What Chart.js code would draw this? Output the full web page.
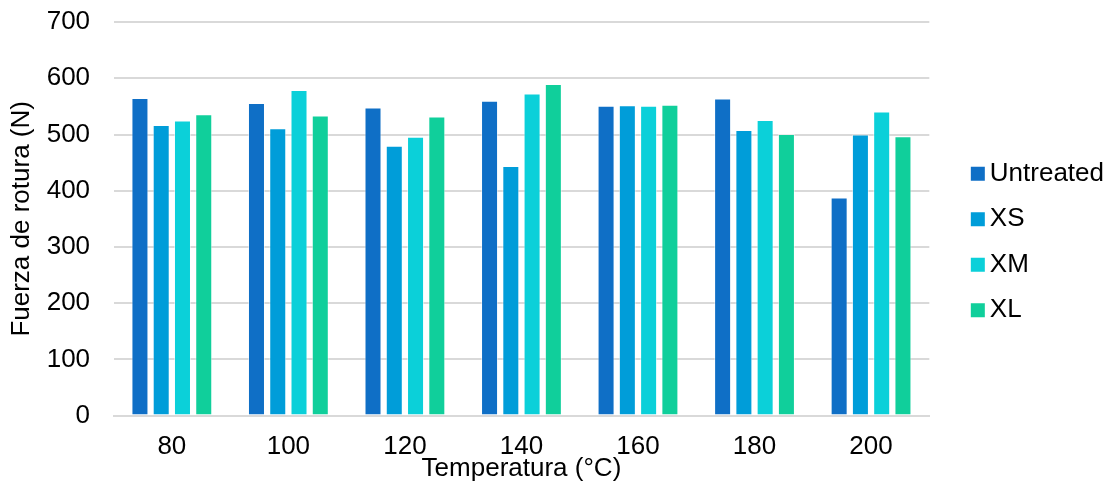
<!DOCTYPE html>
<html>
<head>
<meta charset="utf-8">
<script src="https://cdn.jsdelivr.net/npm/chart.js@4.4.1/dist/chart.umd.min.js"></script>
<style>
  html, body { margin: 0; padding: 0; background: #fff; }
  #wrap { width: 1116px; height: 486px; }
</style>
</head>
<body>
<div id="wrap"><canvas id="myChart" width="1116" height="486"></canvas></div>
<script>
var temperaturas = ["80", "100", "120", "140", "160", "180", "200"];
var untreated = [565, 556, 548, 560, 551, 564, 388];
var xs = [517, 511, 480, 444, 552, 508, 500];
var xm = [525, 579, 496, 573, 551, 526, 541];
var xl = [536, 534, 532, 590, 553, 501, 497];
var yTicks = [0, 100, 200, 300, 400, 500, 600, 700];

var fuente = "'Liberation Sans', Arial, sans-serif";

function serie(label, data, color) {
  return {
    label: label,
    data: data,
    backgroundColor: color,
    borderColor: "rgba(255,255,255,0.5)",
    borderWidth: 1,
    categoryPercentage: 0.73,
    barPercentage: 0.8,
  };
}

// legend sits a bit further right; its boxes are drawn by hand closer to the text
var ajusteLeyenda = {
  id: "ajusteLeyenda",
  afterLayout: function (chart) {
    var lg = chart.legend;
    if (!lg) return;
    lg.left += 14;
    lg.right += 14;
  },
  afterDraw: function (chart) {
    var lg = chart.legend;
    if (!lg || !lg.legendHitBoxes) return;
    var c = chart.ctx;
    c.save();
    lg.legendHitBoxes.forEach(function (hb, i) {
      c.fillStyle = chart.data.datasets[i].backgroundColor;
      c.fillRect(hb.left + 8, hb.top + 6, 14, 14);
    });
    c.restore();
  },
};

var ctx = document.getElementById("myChart").getContext("2d");
new Chart(ctx, {
  type: "bar",
  data: {
    labels: temperaturas,
    datasets: [
      serie("Untreated", untreated, "#0F6FC6"),
      serie("XS", xs, "#009DD9"),
      serie("XM", xm, "#0BD0D9"),
      serie("XL", xl, "#10CF9B"),
    ],
  },
  plugins: [ajusteLeyenda],
  options: {
    responsive: false,
    animation: false,
    layout: { padding: { top: 0, right: 16, bottom: 2, left: 4 } },
    plugins: {
      tooltip: { enabled: false },
      legend: {
        position: "right",
        labels: {
          boxWidth: 14,
          boxHeight: 14,
          padding: 19.5,
          color: "#000",
          font: { family: fuente, size: 26 },
          generateLabels: function (chart) {
            var items = Chart.defaults.plugins.legend.labels.generateLabels(chart);
            items.forEach(function (it) {
              it.fillStyle = "rgba(0,0,0,0)";
              it.strokeStyle = "rgba(0,0,0,0)";
              it.lineWidth = 0;
            });
            return items;
          },
        },
      },
    },
    scales: {
      x: {
        grid: { display: false, drawTicks: false },
        border: { display: true, color: "#d9d9d9", width: 2 },
        ticks: { color: "#000", padding: 16, font: { family: fuente, size: 26 } },
        title: {
          display: true,
          text: "Temperatura (°C)",
          color: "#000",
          padding: { top: -26, bottom: 0 },
          font: { family: fuente, size: 26 },
        },
      },
      y: {
        min: 0,
        max: 700,
        afterBuildTicks: function (axis) {
          axis.ticks = yTicks.map(function (v) { return { value: v }; });
        },
        grid: {
          color: "#d9d9d9",
          lineWidth: 2,
          drawTicks: true,
          tickLength: 17,
          tickColor: "rgba(0,0,0,0)",
        },
        border: { display: false },
        ticks: { color: "#000", padding: 6.5, font: { family: fuente, size: 26 } },
        title: {
          display: true,
          text: "Fuerza de rotura (N)",
          color: "#000",
          padding: { top: 2, bottom: 3 },
          font: { family: fuente, size: 26 },
        },
      },
    },
  },
});
</script>
</body>
</html>
